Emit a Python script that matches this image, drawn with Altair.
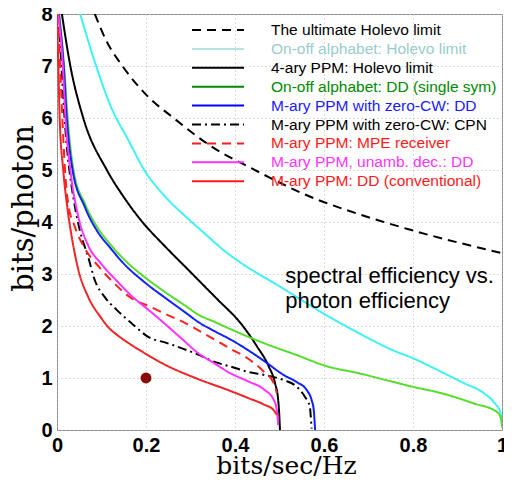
import altair as alt
import pandas as pd

SERIES = [
    "The ultimate Holevo limit",
    "On-off alphabet: Holevo limit",
    "4-ary PPM: Holevo limit",
    "On-off alphabet: DD (single sym)",
    "M-ary PPM with zero-CW: DD",
    "M-ary PPM with zero-CW: CPN",
    "M-ary PPM: MPE receiver",
    "M-ary PPM, unamb. dec.: DD",
    "M-ary PPM: DD (conventional)",
]
LINE_COLORS = ["#000000", "#3ff2f2", "#000000", "#55dd2a", "#1020ff",
               "#000000", "#ff2020", "#ff33ff", "#f02424"]
LEGEND_SYMBOL_COLORS = ["#000000", "#b3e3e3", "#000000", "#008a00", "#0000ff",
                        "#000000", "#ff1a1a", "#ff33ff", "#ff1a1a"]
LEGEND_TEXT_COLORS = ["#000000", "#99cccc", "#000000", "#008800", "#1a1aff",
                      "#000000", "#ff1a1a", "#ff33ff", "#ff1a1a"]
DASHES = [[9, 6], [1, 0], [1, 0], [1, 0], [1, 0], [9, 4, 2, 4], [9, 6], [1, 0], [1, 0]]

ult_x = [0.085, 0.11, 0.147, 0.2, 0.265, 0.344, 0.44, 0.588, 0.654, 0.79, 1.0]
ult_y = [8.0, 7.5, 7.0, 6.45, 5.98, 5.47, 5.02, 4.42, 4.22, 3.86, 3.40]

cyan_x = [0.052, 0.088, 0.122, 0.16, 0.196, 0.244, 0.295, 0.333, 0.38, 0.404, 0.514, 0.605,
          0.679, 0.753, 0.8, 0.863, 0.915, 0.959, 0.984, 0.996, 0.999, 1.0]
cyan_y = [8.0, 7.0, 6.2, 5.58, 5.0, 4.48, 4.06, 3.77, 3.42, 3.27, 2.69, 2.21,
          1.86, 1.54, 1.38, 1.12, 0.90, 0.71, 0.51, 0.35, 0.19, 0.08]

ppm4_x = [0.011, 0.03, 0.059, 0.112, 0.150, 0.188, 0.244, 0.295, 0.34, 0.362, 0.413, 0.45,
          0.476, 0.49, 0.497, 0.5, 0.501]
ppm4_y = [8.0, 7.0, 6.0, 5.0, 4.48, 4.04, 3.52, 3.08, 2.69, 2.5, 2.05, 1.6,
          1.22, 0.9, 0.58, 0.2, 0.0]

green_x = [0.005, 0.016, 0.024, 0.037, 0.064, 0.092, 0.122, 0.152, 0.197, 0.245, 0.29, 0.317,
           0.354, 0.39, 0.465, 0.539, 0.605, 0.679, 0.753, 0.8, 0.863, 0.937, 0.988, 0.998, 1.0]
green_y = [8.0, 7.0, 6.0, 5.0, 4.33, 3.88, 3.55, 3.27, 2.94, 2.64, 2.38, 2.22,
           2.08, 1.94, 1.67, 1.44, 1.23, 1.09, 0.93, 0.83, 0.71, 0.51, 0.35, 0.22, 0.05]

blue_x = [0.004, 0.015, 0.022, 0.035, 0.062, 0.09, 0.12, 0.15, 0.197, 0.245, 0.29, 0.317,
          0.354, 0.39, 0.465, 0.509, 0.539, 0.561, 0.572, 0.577, 0.579, 0.58]
blue_y = [8.0, 7.0, 6.0, 5.0, 4.3, 3.83, 3.5, 3.2, 2.84, 2.53, 2.25, 2.08,
          1.9, 1.74, 1.33, 1.06, 0.92, 0.77, 0.58, 0.38, 0.15, 0.0]

cpn_x = [0.003, 0.01, 0.017, 0.025, 0.033, 0.051, 0.07, 0.085, 0.107, 0.133, 0.168, 0.207,
         0.244, 0.281, 0.317, 0.354, 0.39, 0.428, 0.465, 0.509, 0.539, 0.557, 0.568, 0.572]
cpn_y = [8.0, 7.0, 6.0, 5.2, 4.68, 3.85, 3.33, 2.88, 2.56, 2.32, 2.05, 1.78,
         1.68, 1.57, 1.45, 1.31, 1.22, 1.12, 1.06, 0.96, 0.83, 0.64, 0.45, 0.03]

mpe_x = [0.002, 0.007, 0.012, 0.018, 0.025, 0.04, 0.062, 0.094, 0.131, 0.168, 0.207, 0.244,
         0.283, 0.317, 0.354, 0.39, 0.428, 0.465, 0.487, 0.494]
mpe_y = [8.0, 7.0, 6.0, 5.0, 4.36, 3.91, 3.5, 3.14, 2.8, 2.53, 2.38, 2.23,
         2.08, 1.92, 1.74, 1.56, 1.38, 1.12, 0.9, 0.71]

mag_x = [0.003, 0.013, 0.019, 0.03, 0.048, 0.07, 0.099, 0.133, 0.17, 0.207, 0.244, 0.281,
         0.317, 0.354, 0.39, 0.428, 0.465, 0.487, 0.494, 0.497]
mag_y = [8.0, 7.0, 6.0, 5.0, 4.1, 3.55, 3.2, 2.88, 2.56, 2.3, 2.03, 1.75,
         1.48, 1.28, 1.09, 0.94, 0.78, 0.58, 0.38, 0.1]

red_x = [0.0, 0.003, 0.006, 0.014, 0.022, 0.033, 0.048, 0.07, 0.098, 0.118, 0.135, 0.17,
         0.185, 0.244, 0.317, 0.39, 0.428, 0.465, 0.487, 0.494]
red_y = [8.0, 7.0, 6.0, 5.0, 4.36, 3.72, 3.08, 2.56, 2.17, 1.95, 1.83, 1.62,
         1.54, 1.25, 0.98, 0.75, 0.62, 0.49, 0.38, 0.29]

ALL_X = [ult_x, cyan_x, ppm4_x, green_x, blue_x, cpn_x, mpe_x, mag_x, red_x]
ALL_Y = [ult_y, cyan_y, ppm4_y, green_y, blue_y, cpn_y, mpe_y, mag_y, red_y]

DOT_X = [0.2]
DOT_Y = [1.0]

NOTE_X = [0.513]
NOTE_Y = [2.82]
NOTE_TEXT = ["spectral efficiency vs.\nphoton efficiency"]

X_TICKS = [0, 0.2, 0.4, 0.6, 0.8, 1]
Y_TICKS = [0, 1, 2, 3, 4, 5, 6, 7, 8]

rows = []
for s, xs, ys in zip(SERIES, ALL_X, ALL_Y):
    for i, (a, b) in enumerate(zip(xs, ys)):
        rows.append({"series": s, "entry": s, "x": a, "y": b, "i": i})
df = pd.DataFrame(rows)

W, H = 445, 416

def js_list(vals):
    return "[" + ",".join("'" + v + "'" for v in vals) + "]"

label_fill = js_list(LEGEND_TEXT_COLORS) + "[indexof(" + js_list(SERIES) + ", datum.label)]"

xscale = alt.Scale(domain=[0, 1], nice=False, zero=False)
yscale = alt.Scale(domain=[0, 8], nice=False, zero=False)

xaxis = alt.Axis(values=X_TICKS, title="bits/sec/Hz", labelExpr="format(datum.value, '~g')",
                 grid=True, ticks=False, domain=False, labelPadding=5,
                 labelFont="Liberation Sans", labelFontSize=20, labelFontWeight="bold",
                 labelColor="#000000", labelFlush=False, labelOverlap=False,
                 titleFont="DejaVu Serif", titleFontSize=25, titleFontWeight="normal",
                 titleColor="#000000", titleX=229, titleY=35, titleBaseline="middle",
                 titleAlign="center")
yaxis = alt.Axis(values=Y_TICKS, title="bits/photon", grid=True, ticks=False, domain=False,
                 labelPadding=5, labelFont="Liberation Sans", labelFontSize=20,
                 labelFontWeight="bold", labelColor="#000000", labelOverlap=False,
                 labelFlush=False,
                 titleFont="DejaVu Serif", titleFontSize=29, titleFontWeight="normal",
                 titleColor="#000000", titleX=-34, titleY=194, titleAngle=270,
                 titleBaseline="middle", titleAlign="center")

key_legend = alt.Legend(
    title=None, orient="none", legendX=134, legendY=7.5, padding=0,
    symbolType="stroke", symbolSize=2704, symbolStrokeWidth=2, clipHeight=17,
    rowPadding=1.9, labelOffset=26, labelFont="Liberation Sans", labelFontSize=15.5,
    labelLimit=400,
    labelColor={"expr": label_fill},
)

# curves drawn with the plot colours
lines = alt.Chart(df).mark_line(strokeWidth=2, clip=True, interpolate="monotone").encode(
    x=alt.X("x:Q", scale=xscale, axis=xaxis),
    y=alt.Y("y:Q", scale=yscale, axis=yaxis),
    color=alt.Color("series:N", scale=alt.Scale(domain=SERIES, range=LINE_COLORS), legend=None),
    strokeDash=alt.StrokeDash("series:N", scale=alt.Scale(domain=SERIES, range=DASHES), legend=None),
    order=alt.Order("i:Q"),
)

# legend key (its own colour scale, as in the reference's key)
key = alt.Chart(df).transform_filter("false").mark_line(strokeWidth=2).encode(
    x=alt.X("x:Q", scale=xscale),
    y=alt.Y("y:Q", scale=yscale),
    color=alt.Color("entry:N", scale=alt.Scale(domain=SERIES, range=LEGEND_SYMBOL_COLORS),
                    legend=key_legend),
    strokeDash=alt.StrokeDash("entry:N", scale=alt.Scale(domain=SERIES, range=DASHES),
                              legend=key_legend),
)

dot = alt.Chart(pd.DataFrame({"x": DOT_X, "y": DOT_Y})).mark_circle(
    size=120, color="#8b0a0a", opacity=1
).encode(x="x:Q", y="y:Q")

note = alt.Chart(pd.DataFrame({"x": NOTE_X, "y": NOTE_Y, "t": NOTE_TEXT})).mark_text(
    align="left", baseline="alphabetic", font="Liberation Sans", fontSize=22,
    lineBreak="\n", lineHeight=25, color="#000000"
).encode(x="x:Q", y="y:Q", text="t:N")

chart = alt.layer(lines, key, dot, note).resolve_scale(
    color="independent", strokeDash="independent"
).properties(
    width=W, height=H,
    autosize=alt.AutoSizeParams(type="none"),
    padding={"left": 49, "top": 6, "right": 2, "bottom": 48},
).configure_view(stroke="#8a8a8a", strokeWidth=1).configure_axis(
    gridColor="#b8b8b8", gridDash=[1, 3], gridWidth=1, gridOpacity=1
)

chart.save("out.html", embed_options={"renderer": "svg", "actions": False})
